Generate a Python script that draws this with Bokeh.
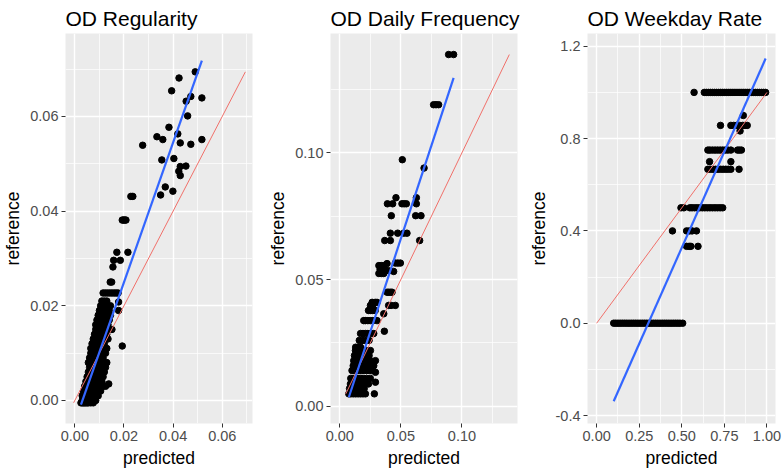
from bokeh.plotting import figure
from bokeh.layouts import row
from bokeh.models import FixedTicker, Range1d
from bokeh.embed import file_html
from bokeh.resources import INLINE

FONT = "Liberation Sans"

# ---------------- Panel 1: OD Regularity ----------------
p1_title = "OD Regularity"
p1_ref_levels = [-0.0005, 0.0, 0.001, 0.002, 0.003, 0.0035, 0.004, 0.005, 0.006, 0.007,
                 0.008, 0.009, 0.010, 0.011, 0.0115, 0.012, 0.013, 0.014, 0.015, 0.016,
                 0.017, 0.018, 0.019, 0.020, 0.0208, 0.021, 0.0227, 0.025, 0.0282, 0.0296,
                 0.0313, 0.0381, 0.0431, 0.0434, 0.0442, 0.0451, 0.0475, 0.0484, 0.0494, 0.0495,
                 0.0508, 0.0511, 0.0539, 0.0541, 0.0544, 0.0551, 0.0557, 0.0563, 0.0577, 0.0601,
                 0.0632, 0.0639, 0.0642, 0.0654, 0.0681, 0.0694]
p1_pred_by_level = [
    [0.0025, 0.003, 0.0035, 0.004, 0.0045, 0.005, 0.0055, 0.0065, 0.0075],
    [0.003, 0.004, 0.005, 0.006, 0.007, 0.0085],
    [0.003, 0.004, 0.005, 0.006, 0.0075, 0.0085, 0.0095],
    [0.0035, 0.0045, 0.0055, 0.0065, 0.0075, 0.009, 0.0105],
    [0.004, 0.005, 0.006, 0.007, 0.008, 0.009, 0.0115, 0.0125],
    [0.0105, 0.0138],
    [0.0045, 0.0055, 0.0065, 0.0075, 0.0085, 0.0095, 0.011],
    [0.005, 0.006, 0.007, 0.008, 0.009, 0.010, 0.0115],
    [0.0055, 0.0065, 0.0075, 0.0085, 0.0095, 0.0105, 0.012],
    [0.006, 0.007, 0.008, 0.009, 0.010, 0.011, 0.0125],
    [0.0055, 0.0065, 0.0075, 0.0085, 0.0095, 0.0105, 0.013],
    [0.006, 0.007, 0.008, 0.009, 0.010, 0.0115],
    [0.0065, 0.0075, 0.0085, 0.0095, 0.011, 0.0125],
    [0.0065, 0.0075, 0.0085, 0.0095, 0.0105, 0.0115, 0.013],
    [0.0193],
    [0.007, 0.008, 0.009, 0.010, 0.011, 0.012],
    [0.0075, 0.0085, 0.0095, 0.0105, 0.0115, 0.0135],
    [0.008, 0.009, 0.010, 0.011, 0.012, 0.013],
    [0.0085, 0.0095, 0.0105, 0.0115, 0.0125, 0.0138, 0.0151],
    [0.0085, 0.0095, 0.0105, 0.0115, 0.0125, 0.0135],
    [0.009, 0.010, 0.011, 0.012, 0.013, 0.014],
    [0.0095, 0.0105, 0.0115, 0.0125, 0.0135, 0.0145],
    [0.010, 0.011, 0.012, 0.013, 0.014, 0.0178],
    [0.0105, 0.0115, 0.0125, 0.0135, 0.0145],
    [0.0178],
    [0.011, 0.012, 0.013],
    [0.0115, 0.0124, 0.0133, 0.0142, 0.0151, 0.016, 0.0168, 0.0176],
    [0.0144, 0.015],
    [0.0155],
    [0.0158, 0.0185],
    [0.0171, 0.0216],
    [0.0193, 0.0198, 0.0203, 0.0208],
    [0.0228, 0.0236],
    [0.0349], [0.0399], [0.0368], [0.0429], [0.0423], [0.0429], [0.0452],
    [0.0354], [0.0403], [0.0276], [0.0472], [0.0429], [0.0358, 0.0517], [0.0334],
    [0.0419], [0.0383], [0.0459], [0.0453], [0.0517], [0.0472], [0.0394], [0.0424], [0.0490],
]
p1_fit_intercept, p1_fit_slope = -0.00455, 1.476
p1_xticks = [0.0, 0.02, 0.04, 0.06]
p1_xlabels = ["0.00", "0.02", "0.04", "0.06"]
p1_xminor = [0.01, 0.03, 0.05, 0.07]
p1_yticks = [0.0, 0.02, 0.04, 0.06]
p1_ylabels = ["0.00", "0.02", "0.04", "0.06"]
p1_yminor = [0.01, 0.03, 0.05, 0.07]
p1_xlim = (-0.0038, 0.0723)
p1_ylim = (-0.00486, 0.0775)

# ---------------- Panel 2: OD Daily Frequency ----------------
p2_title = "OD Daily Frequency"
p2_ref_levels = [0.0049, 0.007, 0.0088, 0.0095, 0.011, 0.0134, 0.0141, 0.016, 0.018, 0.020,
                 0.022, 0.0233, 0.026, 0.0287, 0.0296, 0.0338, 0.0365, 0.0378, 0.0398, 0.041,
                 0.045, 0.0524, 0.0532, 0.0535, 0.054, 0.0555, 0.0563, 0.0565, 0.0654, 0.0683,
                 0.0752, 0.0799, 0.0823, 0.094, 0.0973, 0.119, 0.1388]
p2_pred_by_level = [
    [0.0074, 0.009, 0.011, 0.013, 0.015, 0.017, 0.019, 0.021, 0.0283],
    [0.008, 0.010, 0.012, 0.014, 0.016, 0.018, 0.020],
    [0.0087, 0.011, 0.013, 0.015, 0.017, 0.019, 0.021, 0.0235],
    [0.0292],
    [0.009, 0.011, 0.013, 0.015, 0.017, 0.019, 0.022, 0.025],
    [0.0292],
    [0.010, 0.012, 0.014, 0.016, 0.018, 0.020, 0.022, 0.024, 0.026],
    [0.011, 0.013, 0.015, 0.017, 0.019, 0.021, 0.023, 0.0278],
    [0.0114, 0.013, 0.015, 0.017, 0.019, 0.021, 0.023, 0.025, 0.0292],
    [0.012, 0.014, 0.016, 0.018, 0.020, 0.022, 0.024],
    [0.0128, 0.0145, 0.016, 0.018, 0.020, 0.022, 0.0251],
    [0.013, 0.015, 0.017],
    [0.016, 0.018, 0.020, 0.022, 0.024],
    [0.017, 0.019, 0.021, 0.023, 0.025, 0.0278],
    [0.0365],
    [0.0196, 0.021, 0.023, 0.025, 0.027, 0.0305],
    [0.036],
    [0.0235, 0.025, 0.027, 0.029],
    [0.0251, 0.027, 0.040, 0.042, 0.0455],
    [0.0265, 0.029, 0.0305],
    [0.0387, 0.040, 0.0415, 0.0428],
    [0.032, 0.034, 0.036],
    [0.0441],
    [0.038, 0.040],
    [0.033, 0.035, 0.037],
    [0.032, 0.034, 0.036],
    [0.0387],
    [0.0455, 0.0475, 0.0496],
    [0.0368, 0.0414, 0.0654],
    [0.0414, 0.0474, 0.0523, 0.055],
    [0.0422, 0.0621, 0.0665],
    [0.039, 0.0433, 0.0509, 0.0527, 0.0545, 0.0627],
    [0.046, 0.0627],
    [0.069],
    [0.0512],
    [0.0768, 0.0788, 0.0809],
    [0.0891, 0.0932],
]
p2_fit_intercept, p2_fit_slope = -0.0073, 1.4685
p2_xticks = [0.0, 0.05, 0.10]
p2_xlabels = ["0.00", "0.05", "0.10"]
p2_xminor = [0.025, 0.075, 0.125]
p2_yticks = [0.0, 0.05, 0.10]
p2_ylabels = ["0.00", "0.05", "0.10"]
p2_yminor = [0.025, 0.075, 0.125]
p2_xlim = (-0.0076, 0.1455)
p2_ylim = (-0.0068, 0.1471)

# ---------------- Panel 3: OD Weekday Rate ----------------
p3_title = "OD Weekday Rate"
p3_ref_levels = [0.0, 0.333, 0.4, 0.5, 0.667, 0.7, 0.75, 0.833, 0.857, 0.9, 1.0]
p3_pred_by_level = [
    [0.100, 0.112, 0.125, 0.138, 0.151, 0.164, 0.177, 0.190, 0.203, 0.216, 0.229, 0.242,
     0.255, 0.268, 0.281, 0.294, 0.307, 0.320, 0.333, 0.346, 0.359, 0.372, 0.385, 0.398,
     0.411, 0.424, 0.437, 0.450, 0.463, 0.476, 0.489, 0.505],
    [0.528, 0.543, 0.553, 0.595],
    [0.445, 0.528, 0.545, 0.560, 0.586],
    [0.495, 0.512, 0.547, 0.560, 0.575, 0.590, 0.605, 0.620, 0.635, 0.650, 0.665, 0.680,
     0.695, 0.710, 0.725, 0.740],
    [0.653, 0.668, 0.683, 0.698, 0.713, 0.728, 0.743, 0.758, 0.773, 0.788, 0.836],
    [0.663, 0.788],
    [0.653, 0.665, 0.680, 0.695, 0.710, 0.725, 0.740, 0.755, 0.770, 0.788, 0.827, 0.838, 0.850],
    [0.842],
    [0.727, 0.788, 0.805, 0.822, 0.840, 0.858, 0.872, 0.884],
    [0.861],
    [0.572, 0.632, 0.644, 0.656, 0.668, 0.680, 0.692, 0.704, 0.716, 0.728, 0.740, 0.752,
     0.764, 0.776, 0.788, 0.800, 0.812, 0.824, 0.836, 0.848, 0.860, 0.872, 0.884, 0.896,
     0.908, 0.920, 0.932, 0.944, 0.956, 0.968, 0.980, 0.992],
]
p3_fit_intercept, p3_fit_slope = -0.505, 1.665
p3_xticks = [0.0, 0.25, 0.5, 0.75, 1.0]
p3_xlabels = ["0.00", "0.25", "0.50", "0.75", "1.00"]
p3_xminor = [0.125, 0.375, 0.625, 0.875]
p3_yticks = [-0.4, 0.0, 0.4, 0.8, 1.2]
p3_ylabels = ["-0.4", "0.0", "0.4", "0.8", "1.2"]
p3_yminor = [-0.2, 0.2, 0.6, 1.0]
p3_xlim = (-0.0538, 1.050)
p3_ylim = (-0.4346, 1.2552)


def make_panel(title, levels, preds, fit_a, fit_b, xticks, xlabels, xminor,
               yticks, ylabels, yminor, xlim, ylim, frame_w, border_l, border_r):
    xs = [x for lvl, ps in zip(levels, preds) for x in ps]
    ys = [lvl for lvl, ps in zip(levels, preds) for _ in ps]

    p = figure(output_backend="svg", toolbar_location=None,
               frame_width=frame_w, frame_height=390,
               min_border_left=border_l, min_border_right=border_r,
               min_border_top=33, min_border_bottom=52,
               x_range=Range1d(*xlim), y_range=Range1d(*ylim),
               background_fill_color="#EBEBEB", border_fill_color="white",
               outline_line_color=None, title=title)

    p.title.text_font = FONT
    p.title.text_font_size = "21px"
    p.title.text_font_style = "normal"
    p.title.text_color = "black"
    p.title.align = "left"
    p.title.standoff = 7

    xt = FixedTicker(ticks=xticks, minor_ticks=xminor)
    yt = FixedTicker(ticks=yticks, minor_ticks=yminor)
    p.xaxis.ticker = xt
    p.yaxis.ticker = yt
    p.xgrid.ticker = xt
    p.ygrid.ticker = yt
    p.xaxis.major_label_overrides = dict(zip(xticks, xlabels))
    p.yaxis.major_label_overrides = dict(zip(yticks, ylabels))

    for g in (p.xgrid, p.ygrid):
        g.grid_line_color = "white"
        g.grid_line_width = 1.4
        g.minor_grid_line_color = "white"
        g.minor_grid_line_width = 0.7

    p.xaxis.axis_label = "predicted"
    p.yaxis.axis_label = "reference"
    for ax in (p.xaxis, p.yaxis):
        ax.axis_line_color = None
        ax.major_tick_line_color = "#333333"
        ax.major_tick_out = 4
        ax.major_tick_in = 0
        ax.minor_tick_out = 0
        ax.minor_tick_in = 0
        ax.major_label_text_font = FONT
        ax.major_label_text_font_size = "14.5px"
        ax.major_label_text_color = "#4D4D4D"
        ax.major_label_standoff = 3
        ax.axis_label_text_font = FONT
        ax.axis_label_text_font_size = "17.5px"
        ax.axis_label_text_font_style = "normal"
        ax.axis_label_text_color = "black"
        ax.axis_label_standoff = 4

    p.scatter(xs, ys, size=6.5, color="black")

    lo, hi = min(ys), max(ys)
    p.line([lo, hi], [lo, hi], line_color="#F0706A", line_width=1)

    x0, x1 = min(xs), max(xs)
    p.line([x0, x1], [fit_a + fit_b * x0, fit_a + fit_b * x1],
           line_color="#3366FF", line_width=2.2)
    return p


p1 = make_panel(p1_title, p1_ref_levels, p1_pred_by_level, p1_fit_intercept, p1_fit_slope,
                p1_xticks, p1_xlabels, p1_xminor, p1_yticks, p1_ylabels, p1_yminor,
                p1_xlim, p1_ylim, 187, 62, 11)
p2 = make_panel(p2_title, p2_ref_levels, p2_pred_by_level, p2_fit_intercept, p2_fit_slope,
                p2_xticks, p2_xlabels, p2_xminor, p2_yticks, p2_ylabels, p2_yminor,
                p2_xlim, p2_ylim, 187, 67, 6)
p3 = make_panel(p3_title, p3_ref_levels, p3_pred_by_level, p3_fit_intercept, p3_fit_slope,
                p3_xticks, p3_xlabels, p3_xminor, p3_yticks, p3_ylabels, p3_yminor,
                p3_xlim, p3_ylim, 188, 64, 12)

layout = row(p1, p2, p3)
open("out.html", "w").write(file_html(layout, INLINE))
